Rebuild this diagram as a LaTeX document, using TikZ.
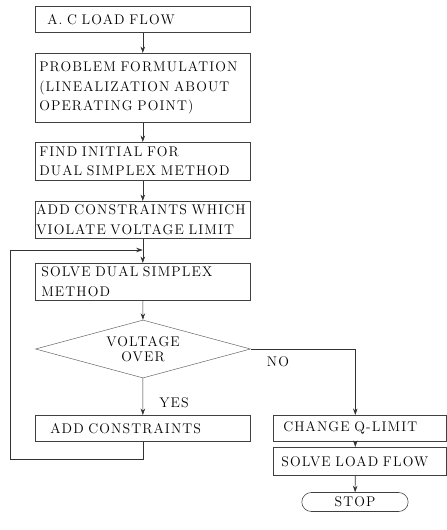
\documentclass[tikz,border=0pt]{standalone}
\usepackage{fontspec}
\setmainfont{Latin Modern Roman}[LetterSpace=8, WordSpace=1.4]
\usepackage{tikz}
\usetikzlibrary{arrows.meta,shapes.geometric,shapes.misc}

\newcommand{\flowfont}{\fontsize{14}{19.5}\selectfont}
\newcommand{\diafont}{\fontsize{14}{15}\selectfont}

\begin{document}
\begin{tikzpicture}[x=1pt, y=-1pt,
    every node/.style={font=\flowfont},
    procbox/.style={draw=black!75, line width=0.6pt, rectangle, anchor=north west, align=left, inner xsep=4pt, inner ysep=0pt},
    arr/.style={-{Stealth[length=6.5pt,width=4.5pt]}, draw=black!80, line width=0.6pt}]
    \useasboundingbox (0,0) rectangle (447,530);

    \node[procbox, text width=207pt, minimum height=26pt] (acflow) at (35,6) {\hspace*{8pt}A. C LOAD FLOW};
    \node[procbox, text width=207pt, minimum height=69pt] (formul) at (35,53) {PROBLEM FORMULATION\\(LINEALIZATION ABOUT\\OPERATING POINT)};
    \node[procbox, text width=207pt, minimum height=38pt] (initial) at (35,142) {FIND INITIAL FOR\\DUAL SIMPLEX METHOD};
    \node[procbox, minimum height=37pt, inner xsep=1pt, text width=213pt] (addviol) at (35,201) {ADD CONSTRAINTS WHICH\\VIOLATE VOLTAGE LIMIT};
    \node[procbox, text width=207pt, minimum height=37pt] (solvedual) at (35,263) {\hspace*{2pt}SOLVE DUAL SIMPLEX\\\hspace*{2pt}METHOD};
    \node[diamond, draw=black!60, line width=0.5pt, aspect=3.7, minimum width=215pt, minimum height=58pt, inner sep=0pt, align=center, font=\diafont] (volt) at (143,349) {VOLTAGE\\OVER};
    \node[procbox, text width=207pt, minimum height=26pt] (addcons) at (35,415) {\hspace*{11pt}ADD CONSTRAINTS};
    \node[procbox, text width=165pt, minimum height=26pt] (changeq) at (273,415) {\hspace*{6pt}CHANGE Q-LIMIT};
    \node[procbox, text width=165pt, minimum height=28pt] (solvelf) at (273,447) {\hspace*{4pt}SOLVE LOAD FLOW};
    \node[rounded rectangle, draw=black!75, line width=0.6pt, minimum width=113pt, minimum height=19pt, inner ysep=0pt] (stop) at (355,502) {STOP};

    \node (yes) at (174,403) {YES};
    \node (no) at (278,362) {NO};

    \coordinate (loopin) at (143,250);
    \coordinate (loopcorner) at (10,459);

    \draw[arr] (acflow) -- (formul);
    \draw[arr] (formul) -- (initial);
    \draw[arr] (initial) -- (addviol);
    \draw[arr] (addviol) -- (solvedual);
    \draw[arr] (solvedual) -- (volt);
    \draw[arr] (volt) -- (addcons);
    \draw[arr] (volt.east) -| ([xshift=-4.5pt]changeq.north);
    \draw[arr] ([xshift=-4.5pt]changeq.south) -- ([xshift=-4.5pt]solvelf.north);
    \draw[arr] ([xshift=-4.5pt]solvelf.south) -- (stop);
    \draw[arr] (addcons.south) |- (loopcorner) -- (loopcorner |- loopin) -- ([xshift=-0.3pt]loopin);
\end{tikzpicture}
\end{document}
